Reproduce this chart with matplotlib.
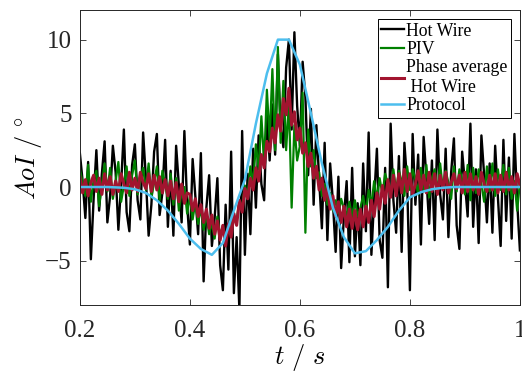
# Angle of incidence: hot wire, PIV, phase average and protocol
import matplotlib
matplotlib.use("Agg")
import matplotlib.pyplot as plt
import numpy as np

plt.rcParams['font.family'] = 'Liberation Serif'
plt.rcParams['mathtext.fontset'] = 'cm'

# time base of the measured signals (s)
t = np.linspace(0.2, 1.0, 161)

# Hot wire signal (deg)
hot_wire = [
    2.3, 0.4, -2.1, 1.7, -4.9, -0.8, 2.5, -1.6, 0.9, 3.1,
    -2.4, -0.6, 2.8, 1.0, -2.9, 0.2, 3.9, -1.7, -3.0, 1.5,
    2.9, -0.9, -2.2, 3.7, 0.6, -3.3, -1.2, 2.4, 3.6, -1.9,
    -0.4, 3.2, -2.7, 1.1, -3.3, 2.8, 0.1, -2.4, 3.8, -1.2,
    -3.9, 1.9, -0.6, -3.2, 2.3, -6.4, -1.4, 0.8, -4.0, -2.1,
    0.6, -5.3, -7.0, -1.2, -5.6, 2.4, -7.2, -3.4, -8.3, 3.8,
    -4.6, 0.9, -3.2, 2.6, -1.4, 3.5, 0.2, -0.9, 4.9, 1.8,
    5.6, 2.2, 9.0, 4.1, 2.7, 8.1, 10.0, 3.9, 10.5, 5.5,
    2.8, 8.5, 6.1, 0.8, 5.3, -1.2, 4.2, 0.5, -2.8, 3.0,
    -3.6, 1.6, -1.0, -4.4, 0.7, -5.5, -2.0, 0.4, -5.1, 1.3,
    -4.7, -1.1, -5.3, 1.6, -3.0, 3.7, -4.6, -0.8, 2.6, -3.6,
    -4.8, 1.3, -6.8, 4.3, -0.9, -3.1, 2.1, -4.4, 3.0, 0.3,
    -7.0, 3.6, -1.2, 2.2, -3.9, 3.4, 0.6, -2.5, 1.8, -3.6,
    3.9, -0.5, -2.2, 2.6, -3.4, 1.0, 3.3, -2.6, -4.2, 2.4,
    0.3, -2.0, 4.3, -2.7, 1.2, -3.8, 3.5, 0.8, -2.4, 1.6,
    -3.1, 2.8, -0.7, -4.0, 3.2, -2.3, 2.0, -3.5, 3.6, -1.0, -4.3,
]

# PIV signal (deg)
piv = [
    1.2, 0.3, -0.6, 1.5, -1.0, 0.5, 1.1, -1.3, 0.2, 1.6,
    -0.3, 1.3, -0.8, 0.4, 1.7, -1.0, 0.1, 1.4, -0.6, 0.8,
    1.8, -0.5, 0.6, 1.3, -0.2, 1.6, -0.7, 0.3, 1.4, -0.9,
    1.1, 0.2, -0.8, 0.9, -1.2, 0.6, -1.6, -0.3, 0.0, -1.8,
    -0.6, -2.2, -1.0, -2.5, -1.4, -2.9, -1.9, -3.2, -2.4, -3.5,
    -2.0, -3.4, -2.6, -3.8, -2.9, -3.0, -2.0, -2.2, -1.0, -1.3,
    0.1, -0.6, 1.4, 0.2, 2.9, 1.2, 4.8, 1.5, 6.6, 3.2,
    8.0, 2.5, 9.5, 3.0, 7.2, 2.5, 5.8, -1.4, 4.2, 1.8,
    2.8, 6.4, -3.1, 3.9, 1.4, 2.5, 0.6, 1.0, -0.6, 0.2,
    -1.2, -0.4, -1.6, -0.9, -1.8, -0.8, -1.5, -1.9, -1.0, -2.1,
    -0.9, -2.0, -1.4, -0.6, -1.8, -0.2, -1.2, 0.4, -0.8, 0.6,
    -0.5, 0.9, 0.2, -0.6, 1.2, -0.3, 1.1, 0.4, -0.6, 1.4,
    -0.2, 1.2, 0.5, -0.5, 1.3, -0.3, 1.5, -0.7, 0.6, 1.2,
    -0.4, 1.6, -0.2, 1.1, 0.3, -0.8, 1.4, -0.3, 1.2, 0.5,
    -0.5, 1.5, -0.9, 1.3, -0.4, 1.2, 0.2, -1.0, 1.4, -0.3,
    1.6, -0.6, 1.2, -0.2, 1.5, -0.5, 1.3, -0.8, 0.4, -1.6, 0.3,
]

# Phase averaged hot wire (deg)
phase_avg = [
    0.7, -0.4, 0.5, -0.6, 0.3, 0.8, -0.3, 0.6, -0.5, 0.9,
    -0.2, 0.7, -0.5, 0.4, -0.3, 0.9, 0.2, -0.4, 1.0, -0.2,
    0.6, -0.3, 1.0, 0.3, -0.1, 0.9, -0.3, 0.8, -0.2, 0.7,
    -0.4, 0.5, -0.6, 0.4, -0.8, 0.3, -1.0, 0.2, -1.1, -0.4,
    -0.5, -1.6, -0.8, -2.0, -1.2, -2.4, -1.5, -2.8, -1.9, -3.2,
    -2.3, -3.6, -2.6, -4.0, -2.5, -3.4, -1.8, -2.6, -0.9, -1.7,
    -0.1, -0.8, 0.6, -0.2, 1.3, 0.4, 2.2, 1.3, 3.1, 2.4,
    4.0, 3.0, 4.9, 3.8, 6.0, 4.9, 6.7, 4.2, 5.1, 3.2,
    4.0, 2.3, 3.0, 1.4, 2.3, 0.6, 1.4, -0.2, 0.6, -0.9,
    0.0, -1.5, -0.6, -2.0, -1.0, -2.4, -1.3, -2.7, -1.5, -2.8,
    -1.6, -2.9, -1.5, -2.7, -1.3, -2.4, -0.9, -2.0, -0.4, -1.5,
    0.1, -1.1, 0.5, -0.7, 0.8, -0.6, 0.9, -0.4, 1.2, -0.3,
    0.9, -0.5, 0.2, 1.1, -0.2, 0.8, -0.4, 1.0, -0.3, 0.9,
    -0.5, 0.8, -0.2, 1.0, -0.4, 0.3, 0.9, -0.1, 0.8, -0.4,
    1.0, -0.3, 0.9, -0.2, 0.7, -0.5, 1.0, 0.2, -0.3, 0.8,
    -0.2, 0.9, -0.4, 0.8, -0.3, 1.0, -0.2, 0.7, -0.4, 0.9, 0.1,
]

# Protocol (prescribed motion)
t_prot = [0.20, 0.25, 0.28, 0.30, 0.32, 0.34, 0.36, 0.38, 0.40, 0.42,
          0.44, 0.46, 0.48, 0.50, 0.52, 0.54, 0.56, 0.58, 0.60, 0.62,
          0.64, 0.66, 0.68, 0.70, 0.72, 0.74, 0.76, 0.78, 0.80, 0.82,
          0.84, 0.86, 0.88, 1.00]
protocol = [0.0, 0.0, -0.05, -0.15, -0.4, -0.9, -1.6, -2.5, -3.5, -4.2,
            -4.6, -3.8, -1.6, 0.5, 4.3, 7.7, 10.0, 10.0, 8.3, 5.0,
            1.6, -1.4, -3.4, -4.5, -4.35, -3.6, -2.7, -1.6, -0.7, -0.35,
            -0.15, -0.05, 0.0, 0.0]

fig = plt.figure(figsize=(5.22, 3.76), dpi=100)
ax = fig.add_axes([0.153, 0.189, 0.843, 0.784])

ax.plot(t, hot_wire, color='black', lw=1.7, label='Hot Wire')
ax.plot(t, piv, color='#008000', lw=1.6, label='PIV')
ax.plot(t, phase_avg, color='#A2142F', lw=2.2, label='Phase average\n Hot Wire')
ax.plot(t_prot, protocol, color='#4DBEEE', lw=1.8, label='Protocol')

ax.set_xlim(0.2, 1.0)
ax.set_ylim(-8, 12)
ax.set_xticks([0.2, 0.4, 0.6, 0.8, 1.0])
ax.set_xticklabels(['0.2', '0.4', '0.6', '0.8', '1'])
ax.set_yticks([-5, 0, 5, 10])
ax.tick_params(direction='in', top=True, right=True, labelsize=18,
               length=4, width=0.6, colors='#262626', pad=6)
ax.tick_params(axis='x', pad=11)
for sp in ax.spines.values():
    sp.set_linewidth(0.7)
    sp.set_color('#262626')

ax.set_xlabel(r'$t\ /\ s$', fontsize=19, labelpad=0)
ax.set_ylabel(r'$AoI\ /\ ^{\circ}$', fontsize=19, labelpad=1)

leg = ax.legend(loc='upper right', fontsize=12.8, fancybox=False,
                edgecolor='black', framealpha=1, handlelength=1.3,
                handletextpad=0.1, borderpad=0.2, labelspacing=0.08,
                borderaxespad=0.5)
leg.get_frame().set_linewidth(0.7)

fig.savefig('out.png', dpi=100)
